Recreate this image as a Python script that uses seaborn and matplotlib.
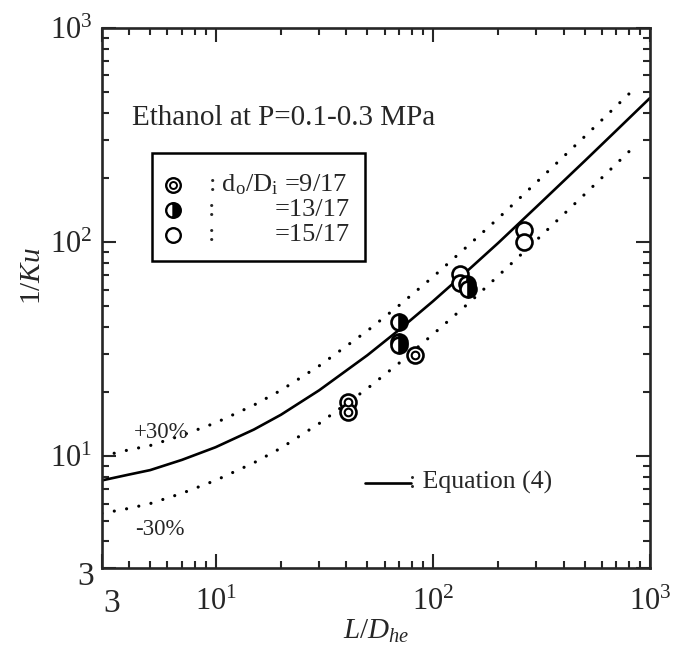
import matplotlib
matplotlib.use("Agg")
import matplotlib.pyplot as plt
import seaborn as sns
import numpy as np
import pandas as pd
from matplotlib.patches import Rectangle
from matplotlib.ticker import FixedLocator, NullFormatter

# ---------------- data ----------------
eq_x = [3, 4, 5, 7, 10, 15, 20, 30, 50, 70, 100, 150, 200, 300, 500, 700, 1000]
eq_y = [7.7, 8.2, 8.6, 9.6, 11.0, 13.3, 15.6, 20.3, 29.6, 38.9, 52.8, 76, 99, 146, 239, 332, 471]

upper_x = [3, 4, 5, 7, 10, 15, 20, 30, 50, 70, 100, 150, 200, 300, 500, 700, 860]
upper_y = [10.0, 10.7, 11.2, 12.5, 14.3, 17.3, 20.3, 26.4, 38.5, 50.6, 68.6, 99, 129, 190, 311, 432, 528]

lower_x = [3, 4, 5, 7, 10, 15, 20, 30, 50, 70, 100, 150, 200, 300, 500, 700, 860]
lower_y = [5.4, 5.7, 6.0, 6.7, 7.7, 9.3, 10.9, 14.2, 20.7, 27.2, 37.0, 53, 69.5, 102, 167, 232, 284]

ring_x = [40.7, 40.7, 83]          # d_o/D_i = 9/17
ring_y = [17.9, 16.1, 29.6]
half_x = [70, 70, 70, 143, 145]    # d_o/D_i = 13/17
half_y = [42.5, 34.2, 33.2, 63.5, 60.5]
open_x = [133, 133, 262, 262]      # d_o/D_i = 15/17
open_y = [71, 64.5, 114, 100.5]

tick_vals = [3, 10, 100, 1000]
tick_labels = ["", "$10^{1}$", "$10^{2}$", "$10^{3}$"]

# ---------------- style ----------------
sns.set_style("ticks")
plt.rcParams["font.family"] = ["Liberation Serif", "DejaVu Serif"]
plt.rcParams["mathtext.fontset"] = "custom"
plt.rcParams["mathtext.rm"] = "Liberation Serif"
plt.rcParams["mathtext.it"] = "Liberation Serif:italic"
plt.rcParams["axes.linewidth"] = 1.9

fig = plt.figure(figsize=(6.77, 6.51), dpi=100)
ax = fig.add_axes([102 / 677, 1 - 568 / 651, 548 / 677, 540 / 651])

ax.set_xscale("log")
ax.set_yscale("log")

sns.lineplot(x=eq_x, y=eq_y, ax=ax, color="black", lw=1.9, sort=False)
sns.lineplot(x=upper_x, y=upper_y, ax=ax, color="black", lw=2.3, sort=False,
             linestyle=(0, (0.01, 3.9)), dash_capstyle="round")
sns.lineplot(x=lower_x, y=lower_y, ax=ax, color="black", lw=2.3, sort=False,
             linestyle=(0, (0.01, 3.9)), dash_capstyle="round")

MS = 11.5
MEW = 1.9
# open circles
sns.scatterplot(x=open_x, y=open_y, ax=ax, marker="o", s=MS ** 2,
                facecolor="white", edgecolor="black", linewidth=MEW, zorder=5)
# ring (double) circles
sns.scatterplot(x=ring_x, y=ring_y, ax=ax, marker="o", s=MS ** 2,
                facecolor="white", edgecolor="black", linewidth=MEW, zorder=5)
sns.scatterplot(x=ring_x, y=ring_y, ax=ax, marker="o", s=5.5 ** 2,
                facecolor="white", edgecolor="black", linewidth=1.5, zorder=6)
# half-filled circles
ax.plot(half_x, half_y, ls="none", marker="o", ms=MS, mew=MEW, fillstyle="right",
        markerfacecolor="black", markerfacecoloralt="white", markeredgecolor="black", zorder=5)

ax.set_xlim(3, 1000)
ax.set_ylim(3, 1000)

for axis in (ax.xaxis, ax.yaxis):
    axis.set_major_locator(FixedLocator(tick_vals))
    axis.set_minor_locator(FixedLocator(
        [m * 10 ** e for e in range(0, 3) for m in range(2, 10) if 3 < m * 10 ** e < 1000]))
    axis.set_minor_formatter(NullFormatter())
ax.set_xticklabels(tick_labels)
ax.set_yticklabels(tick_labels)
ax.tick_params(which="both", direction="in", top=True, right=True, width=1.5)
ax.tick_params(which="major", length=10, labelsize=22)
ax.tick_params(which="minor", length=5)
ax.tick_params(axis="x", which="major", pad=14)
ax.tick_params(axis="y", which="major", pad=7)

# the two "3" corner labels, placed as in the original
ax.annotate("3", xy=(3, 3), xycoords="data", xytext=(7, -26), textcoords="offset points",
            fontsize=24, ha="center", va="center", annotation_clip=False)
ax.annotate("3", xy=(3, 3), xycoords="data", xytext=(-12, -6), textcoords="offset points",
            fontsize=24, ha="center", va="center", annotation_clip=False)

ax.set_xlabel("$L/D_{he}$", fontsize=21, labelpad=1)
ax.set_ylabel("$1/Ku$", fontsize=21)
ax.yaxis.set_label_coords(-0.102, 0.54)

# annotations
ax.text(0.055, 0.833, "Ethanol at P=0.1-0.3 MPa", transform=ax.transAxes,
        fontsize=21, va="center", ha="left")
ax.text(0.058, 0.25, "+30%", transform=ax.transAxes, fontsize=16.5, va="center", ha="left")
ax.text(0.06, 0.072, "-30%", transform=ax.transAxes, fontsize=16.5, va="center", ha="left")
ax.plot([0.48, 0.564], [0.157, 0.157], transform=ax.transAxes, color="black", lw=1.9)
ax.text(0.560, 0.159, ": Equation (4)", transform=ax.transAxes, fontsize=18.5,
        va="center", ha="left")

# legend box
ax.add_patch(Rectangle((0.0912, 0.5685), 0.389, 0.200, transform=ax.transAxes,
                       fill=False, edgecolor="black", lw=1.8, zorder=7))
lx = 0.1296
ly = [0.709, 0.663, 0.6167]
LMS = 10.5
ax.plot([lx], [ly[0]], transform=ax.transAxes, ls="none", marker="o", ms=LMS,
        mfc="white", mec="black", mew=1.7, clip_on=False, zorder=8)
ax.plot([lx], [ly[0]], transform=ax.transAxes, ls="none", marker="o", ms=5,
        mfc="white", mec="black", mew=1.4, clip_on=False, zorder=9)
ax.plot([lx], [ly[1]], transform=ax.transAxes, ls="none", marker="o", ms=LMS,
        mew=1.7, fillstyle="right", markerfacecolor="black", markerfacecoloralt="white",
        mec="black", clip_on=False, zorder=8)
ax.plot([lx], [ly[2]], transform=ax.transAxes, ls="none", marker="o", ms=LMS,
        mfc="white", mec="black", mew=1.7, clip_on=False, zorder=8)
LFS = 19
ax.text(0.193, ly[0], ": d$_{\\mathrm{o}}$/D$_{\\mathrm{i}}$ =9/17", transform=ax.transAxes,
        fontsize=LFS, va="center", ha="left")
for yy, lab in zip(ly[1:], ["=13/17", "=15/17"]):
    ax.text(0.193, yy, ":", transform=ax.transAxes, fontsize=LFS, va="center", ha="left")
    ax.text(0.4526, yy, lab, transform=ax.transAxes, fontsize=LFS, va="center", ha="right")

fig.savefig("out.png", dpi=100)
